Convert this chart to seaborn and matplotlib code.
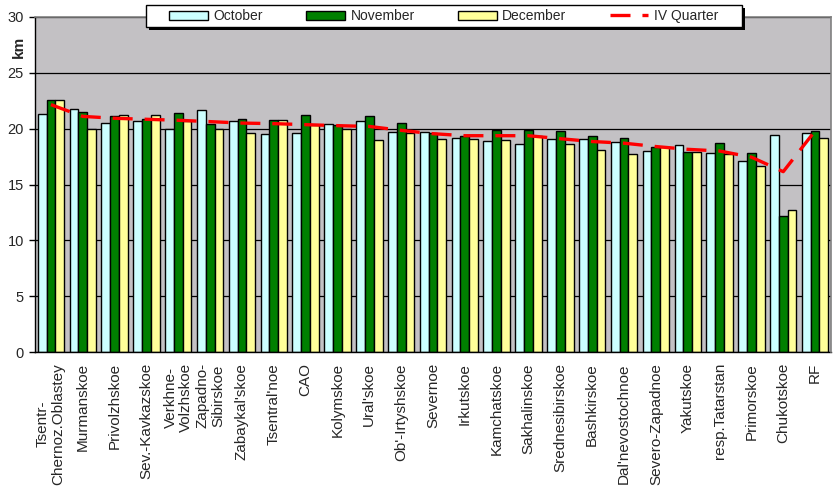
import numpy as np
import pandas as pd
import matplotlib
matplotlib.use("Agg")
import matplotlib.pyplot as plt
from matplotlib.patches import Rectangle
import seaborn as sns

# Data
regions = ["Tsentr-\nChernoz.Oblastey", "Murmanskoe", "Privolzhskoe", "Sev.-Kavkazskoe",
           "Verkhne-\nVolzhskoe", "Zapadno-\nSibirskoe", "Zabaykal'skoe", "Tsentral'noe",
           "CAO", "Kolymskoe", "Ural'skoe", "Ob'-Irtyshskoe", "Severnoe", "Irkutskoe",
           "Kamchatskoe", "Sakhalinskoe", "Srednesibirskoe", "Bashkirskoe",
           "Dal'nevostochnoe", "Severo-Zapadnoe", "Yakutskoe", "resp.Tatarstan",
           "Primorskoe", "Chukotskoe", "RF"]
october = [21.3, 21.8, 20.5, 20.7, 20.0, 21.7, 20.7, 19.5, 19.6, 20.45, 20.7, 19.7, 19.7,
           19.2, 18.9, 18.6, 19.1, 19.1, 18.85, 18.0, 18.55, 17.85, 17.1, 19.45, 19.65]
november = [22.6, 21.5, 21.15, 20.9, 21.4, 20.45, 20.9, 20.8, 21.25, 20.3, 21.15, 20.55, 19.65,
            19.35, 19.9, 19.9, 19.8, 19.35, 19.2, 18.4, 17.95, 18.75, 17.85, 12.2, 19.8]
december = [22.6, 19.95, 21.25, 21.25, 20.7, 20.0, 19.65, 20.8, 20.35, 20.0, 19.0, 19.65, 19.1,
             19.1, 19.0, 19.35, 18.65, 18.05, 17.75, 18.4, 17.95, 17.7, 16.7, 12.75, 19.2]
quarter = [22.15, 21.1, 20.93, 20.84, 20.75, 20.63, 20.5, 20.45, 20.36, 20.27, 20.2, 19.85, 19.55,
           19.37, 19.37, 19.37, 19.1, 18.85, 18.7, 18.4, 18.15, 18.0, 17.45, 16.15, 19.8]
months = ["October", "November", "December"]
colors = ["#ccffff", "#008000", "#ffff99"]

df = pd.DataFrame({
    "region": regions * 3,
    "month": np.repeat(months, len(regions)),
    "km": october + november + december,
})

sns.set_style("white")
plt.rcParams["font.family"] = ["Liberation Sans", "DejaVu Sans"]
plt.rcParams["lines.scale_dashes"] = False

fig = plt.figure(figsize=(8.35, 4.99), dpi=100)
ax = fig.add_axes([35 / 835, 1 - 352 / 499, 796 / 835, 335 / 499])
ax.set_facecolor("#c3c1c4")

sns.barplot(data=df, x="region", y="km", hue="month", hue_order=months,
            palette=colors, saturation=1, width=0.83, edgecolor="black",
            linewidth=1, ax=ax, zorder=2)

x = np.arange(len(regions))
sns.lineplot(x=x, y=quarter, color="#ff0000", linewidth=2.4, ax=ax, zorder=4,
             dashes=False, label="IV Quarter")
ax.lines[-1].set_dashes((14.4, 8.6))

ax.set_xlim(-0.5, len(regions) - 0.5)
ax.set_ylim(0, 30)
ax.set_yticks(range(0, 31, 5))
ax.yaxis.grid(True, color="black", linewidth=0.9)
ax.set_axisbelow(True)

ax.set_xlabel("")
ax.set_ylabel("")
ax.set_xticks(x)
ax.set_xticklabels(regions, rotation=90, fontsize=11, ha="center", va="top",
                   multialignment="center", linespacing=1.15)
ax.set_xticks(np.arange(-0.5, len(regions)), minor=True)
ax.tick_params(axis="x", which="major", length=0, pad=8)
ax.tick_params(axis="x", which="minor", length=4, width=1, color="black", direction="out")
ax.tick_params(axis="y", length=4, width=1, color="black", direction="out", pad=4,
               labelsize=10.5, left=True)

for side in ["left", "bottom"]:
    ax.spines[side].set_color("black")
    ax.spines[side].set_linewidth(1)
for side in ["top", "right"]:
    ax.spines[side].set_color("#808080")
    ax.spines[side].set_linewidth(1.2)
    ax.spines[side].set_zorder(5)

fig.text(19 / 835, 1 - 47 / 499, "km", rotation=90, fontweight="bold", fontsize=11,
         ha="center", va="center")

# legend box with a solid black shadow, like the original
fig.patches.append(Rectangle((149 / 835, 1 - 30 / 499), 596 / 835, 22 / 499,
                             transform=fig.transFigure, facecolor="black",
                             edgecolor="none", zorder=3))
fig.patches.append(Rectangle((146 / 835, 1 - 27 / 499), 596 / 835, 22 / 499,
                             transform=fig.transFigure, facecolor="white",
                             edgecolor="black", linewidth=1, zorder=3))

handles, labels = ax.get_legend_handles_labels()
ax.get_legend().remove()
leg = fig.legend(handles, labels, loc="center left", ncol=4,
                 bbox_to_anchor=(169 / 835, 1 - 16 / 499),
                 fontsize=10, frameon=False,
                 handlelength=2.8, handleheight=0.6, handletextpad=0.4,
                 borderaxespad=0, borderpad=0, columnspacing=3.1)
leg.set_zorder(6)

fig.savefig("out.png", dpi=100, facecolor="white")
